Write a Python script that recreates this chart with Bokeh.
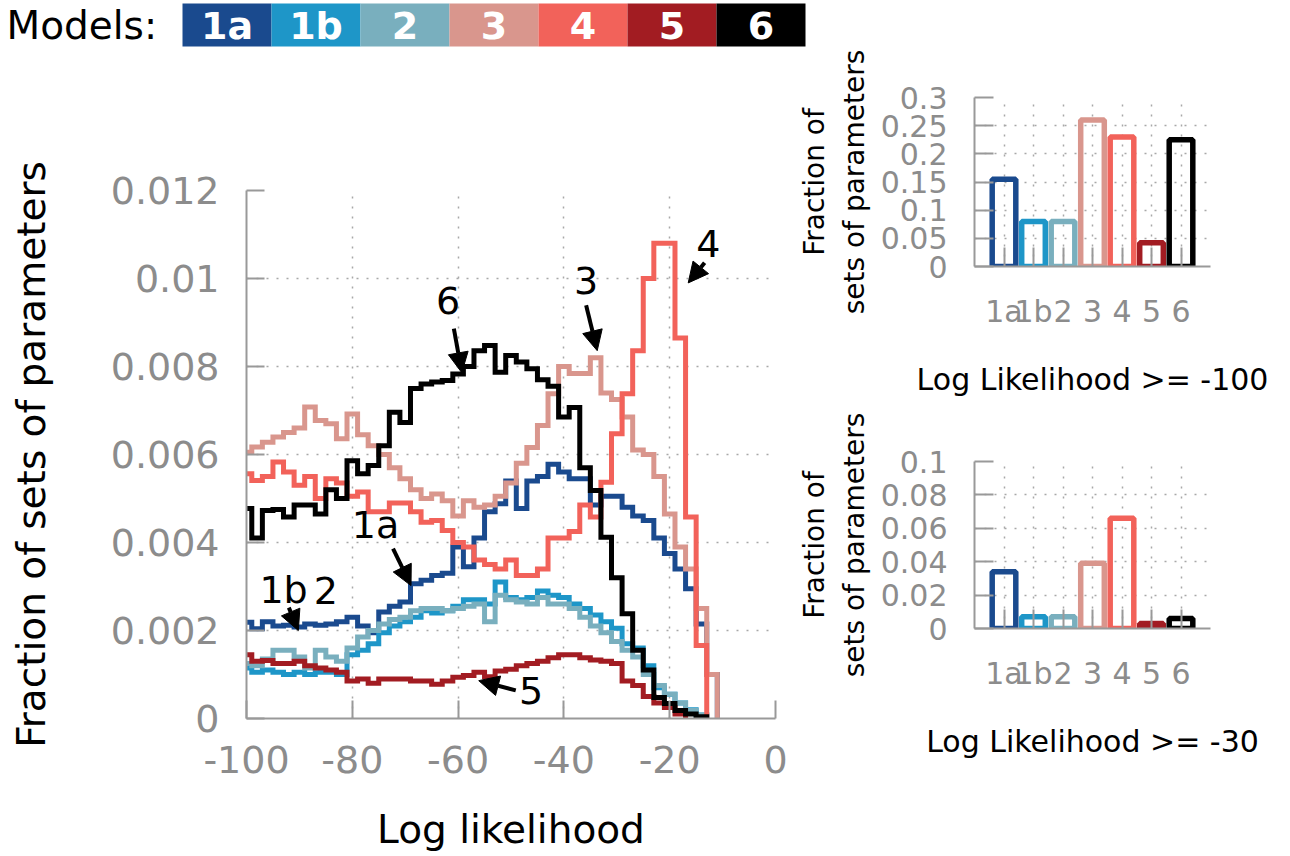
import numpy as np
from bokeh.plotting import figure
from bokeh.models import Range1d, FixedTicker, Label, Arrow, NormalHead
from bokeh.layouts import row, column
from bokeh.embed import file_html
from bokeh.resources import INLINE
from bokeh.core.properties import value

# ---------------- data ----------------
models = ["1a", "1b", "2", "3", "4", "5", "6"]
colors = ["#1a4a8e", "#1e96c8", "#79afbe", "#d9968d", "#f2625a", "#a21c22", "#000000"]

# histogram bins: centres at -100, -98, ... (width 2); values in units of 0.001
bin_first = -100
bin_width = 2
m1a = [2.19, 2.04, 2.2, 2.1, 2.12, 2.08, 2.15, 2.12, 2.15, 2.2, 2.3, 2.1, 1.95, 2.42, 2.55, 2.65,
       3.06, 3.14, 3.25, 3.3, 3.9, 3.45, 4.1, 4.7, 4.88, 5.4, 4.77, 5.4, 5.5, 5.78, 5.6, 5.45,
       5.45, 4.85, 5.05, 5.05, 4.8, 4.6, 4.5, 4.1, 3.75, 3.4, 2.95, 2.15, 1.0]
m1b = [1.15, 1.05, 1.1, 1.05, 1.0, 1.05, 1.0, 1.05, 1.05, 1.0, 1.45, 1.55, 1.7, 1.95, 2.1, 2.2,
       2.3, 2.45, 2.4, 2.45, 2.55, 2.7, 2.7, 2.6, 3.1, 2.75, 2.7, 2.75, 2.9, 2.8, 2.75, 2.6,
       2.5, 2.35, 2.2, 2.05, 1.7, 1.6, 1.2, 0.7, 0.55, 0.35, 0.2, 0.08]
m2 = [1.25, 1.2, 1.35, 1.55, 1.55, 1.4, 1.15, 1.55, 1.4, 1.3, 1.6, 1.85, 2.0, 2.15, 2.25, 2.3,
      2.45, 2.5, 2.5, 2.45, 2.5, 2.55, 2.6, 2.2, 2.8, 2.7, 2.65, 2.6, 2.75, 2.6, 2.6, 2.5,
      2.3, 2.1, 1.95, 1.75, 1.55, 1.4, 1.0, 0.75, 0.55, 0.35, 0.18, 0.08]
m3 = [6.05, 6.17, 6.28, 6.4, 6.5, 6.6, 7.08, 6.77, 6.7, 6.36, 6.92, 6.45, 6.2, 6.0, 5.7, 5.45,
      5.2, 5.0, 5.1, 4.95, 4.6, 4.95, 4.8, 4.85, 5.05, 5.35, 5.8, 6.16, 6.66, 7.38, 8.0, 7.84,
      7.84, 8.2, 7.4, 7.25, 6.85, 6.1, 6.0, 5.5, 4.65, 3.9, 3.4, 2.5, 1.0]
m4 = [5.56, 5.41, 5.5, 5.83, 5.6, 5.3, 5.5, 5.0, 5.45, 5.35, 5.05, 5.15, 4.7, 4.7, 4.9, 4.9,
      4.7, 4.46, 4.5, 4.27, 4.0, 3.9, 3.6, 3.5, 3.4, 3.6, 3.25, 3.25, 3.4, 4.1, 4.1, 4.25,
      4.85, 4.58, 5.37, 6.47, 7.38, 8.36, 10.0, 10.8, 10.8, 8.65, 4.58, 1.66]
m5 = [1.45, 1.3, 1.32, 1.25, 1.25, 1.3, 1.2, 1.15, 1.1, 1.05, 0.85, 0.9, 0.8, 0.9, 0.9, 0.9,
      0.85, 0.85, 0.78, 0.85, 0.94, 0.98, 1.05, 0.95, 1.08, 1.12, 1.2, 1.25, 1.3, 1.38, 1.45, 1.45,
      1.38, 1.33, 1.3, 1.25, 0.85, 0.75, 0.5, 0.35, 0.25, 0.1]
m6 = [4.77, 4.1, 4.73, 4.75, 4.58, 4.85, 4.85, 4.65, 5.2, 5.0, 5.86, 5.56, 5.75, 6.2, 6.96, 6.73,
      7.5, 7.6, 7.65, 7.68, 7.83, 8.0, 8.36, 8.48, 7.87, 8.25, 8.1, 7.95, 7.7, 7.55, 6.85, 7.07,
      5.7, 5.18, 4.12, 3.2, 2.38, 1.55, 1.1, 0.48, 0.34, 0.18, 0.1, 0.04]
series = [m1a, m1b, m2, m3, m4, m5, m6]
unit = 1e-3

frac_ll100 = [0.155, 0.08, 0.08, 0.26, 0.23, 0.042, 0.225]
frac_ll30 = [0.034, 0.007, 0.007, 0.039, 0.066, 0.003, 0.006]

x_ticks = [-100, -80, -60, -40, -20, 0]
x_tick_labels = ["-100", "-80", "-60", "-40", "-20", "0"]
y_ticks = [0, 0.002, 0.004, 0.006, 0.008, 0.01, 0.012]
y_tick_labels = ["0", "0.002", "0.004", "0.006", "0.008", "0.01", "0.012"]
top_ticks = [0, 0.05, 0.1, 0.15, 0.2, 0.25, 0.3]
top_tick_labels = ["0", "0.05", "0.1", "0.15", "0.2", "0.25", "0.3"]
bot_ticks = [0, 0.02, 0.04, 0.06, 0.08, 0.1]
bot_tick_labels = ["0", "0.02", "0.04", "0.06", "0.08", "0.1"]

FONT = "DejaVu Sans"
GRAY = "#8c8c8c"
AXIS_GRAY = "#999999"
GRID = "#a8a8a8"


def style_axes(f, tick_size, label_size, tick_len):
    for ax in f.axis:
        ax.axis_line_color = AXIS_GRAY
        ax.axis_line_width = 2
        ax.major_tick_line_color = AXIS_GRAY
        ax.major_tick_line_width = 2
        ax.major_tick_in = tick_len
        ax.major_tick_out = 0
        ax.minor_tick_line_color = None
        ax.major_label_text_font = FONT
        ax.major_label_text_font_size = tick_size
        ax.major_label_text_color = GRAY
        ax.axis_label_text_font = FONT
        ax.axis_label_text_font_size = label_size
        ax.axis_label_text_font_style = "normal"
        ax.axis_label_text_color = "black"
    for g in f.grid:
        g.grid_line_color = GRID
        g.grid_line_dash = "2 8"
        g.grid_line_width = 1.5
    f.outline_line_color = None
    f.background_fill_color = "white"
    f.border_fill_color = "white"


def step_path(vals):
    xs, ys = [], []
    for i, v in enumerate(vals):
        c = bin_first + i * bin_width
        xs += [c - bin_width / 2, c + bin_width / 2]
        ys += [v * unit, v * unit]
    xs.append(xs[-1])
    ys.append(0)
    return xs, ys


# ---------------- legend strip ----------------
LG_H = 50
lg = figure(width=810, height=LG_H, x_range=Range1d(0, 810), y_range=Range1d(0, LG_H),
            output_backend="svg", toolbar_location=None, min_border=0)
lg.axis.visible = False
lg.grid.visible = False
lg.outline_line_color = None
box_left = 182
box_w = 89
lefts = [box_left + box_w * i for i in range(len(models))]
lg.quad(left=lefts, right=[l + box_w for l in lefts], bottom=4, top=47,
        fill_color=colors, line_color=None)
lg.text(x=[l + box_w / 2 for l in lefts], y=25, text=models, text_color="white",
        text_font=value(FONT), text_font_style="bold", text_font_size="38px",
        text_align="center", text_baseline="middle")
lg.add_layout(Label(x=6, y=25, text="Models:", text_font=FONT, text_font_size="39px",
                    text_baseline="middle", text_align="left", text_color="black"))

# ---------------- main histogram ----------------
LEFT_W = 795
p = figure(width=LEFT_W, height=856 - LG_H, x_range=Range1d(-100, 0), y_range=Range1d(0, 0.012),
           output_backend="svg", toolbar_location=None,
           min_border_left=246, min_border_right=LEFT_W - 775,
           min_border_top=190 - LG_H, min_border_bottom=138)
style_axes(p, "38px", "39px", 18)
p.xaxis.ticker = FixedTicker(ticks=x_ticks)
p.xaxis.major_label_overrides = dict(zip(x_ticks, x_tick_labels))
p.yaxis.ticker = FixedTicker(ticks=y_ticks)
p.yaxis.major_label_overrides = dict(zip(y_ticks, y_tick_labels))
p.xaxis.axis_label = "Log likelihood"
p.yaxis.axis_label = "Fraction of sets of parameters"
p.xaxis.major_label_standoff = 27
p.yaxis.major_label_standoff = 27
p.xaxis.axis_label_standoff = 31
p.yaxis.axis_label_standoff = 54

for vals, col in zip(series, colors):
    xs, ys = step_path(vals)
    p.line(xs, ys, line_color=col, line_width=5, line_join="miter")

annot = [("6", -61.9, 0.0095, -60.8, 0.00886, -59.3, 0.00786),
         ("3", -35.8, 0.00995, -35.8, 0.00939, -33.7, 0.00836),
         ("4", -12.7, 0.0108, -13.4, 0.01036, -16.5, 0.0099),
         ("1a", -75.6, 0.00439, -72.3, 0.00386, -68.9, 0.00302),
         ("1b", -93.0, 0.00291, -92.0, 0.00252, -90.2, 0.0020),
         ("5", -46.2, 0.00064, -49.1, 0.00064, -56.1, 0.00086)]
for txt, tx, ty, x0, y0, x1, y1 in annot:
    p.add_layout(Label(x=tx, y=ty, text=txt, text_font=FONT, text_font_size="38px",
                       text_align="center", text_baseline="middle", text_color="black"))
    p.add_layout(Arrow(x_start=x0, y_start=y0, x_end=x1, y_end=y1, line_width=4,
                       line_color="black",
                       end=NormalHead(size=20, fill_color="black", line_color="black", line_width=1)))
p.add_layout(Label(x=-85.0, y=0.00291, text="2", text_font=FONT, text_font_size="38px",
                   text_align="center", text_baseline="middle", text_color="black"))


# ---------------- small bar charts ----------------
RIGHT_W = 1290 - LEFT_W


def small_fig(vals, ymax, ticks, labels, title, height, btop, bbottom):
    s = figure(width=RIGHT_W, height=height, x_range=Range1d(0, 8), y_range=Range1d(0, ymax),
               output_backend="svg", toolbar_location=None,
               min_border_left=973 - LEFT_W, min_border_right=1290 - 1210, min_border_top=btop,
               min_border_bottom=bbottom)
    style_axes(s, "30px", "28px", 19)
    xpos = list(range(1, len(models) + 1))
    s.vbar(x=xpos, top=vals, width=0.8, bottom=0, fill_color=None,
           line_color=colors, line_width=5.5)
    s.xaxis.ticker = FixedTicker(ticks=xpos)
    s.xaxis.major_label_overrides = {i: m for i, m in zip(xpos, models)}
    s.yaxis.ticker = FixedTicker(ticks=ticks)
    s.yaxis.major_label_overrides = dict(zip(ticks, labels))
    s.xaxis.axis_label = title
    s.xaxis.axis_label_text_font_size = "30px"
    s.yaxis.axis_label = "Fraction of\nsets of parameters"
    s.xaxis.major_label_standoff = 27
    s.yaxis.major_label_standoff = 27
    s.xaxis.axis_label_standoff = 30
    s.yaxis.axis_label_standoff = 7
    return s


# top small chart: frame y 97..266 ; bottom small chart: frame y 461..628
SPLIT = 405
s1 = small_fig(frac_ll100, 0.3, top_ticks, top_tick_labels, "Log Likelihood >= -100",
               SPLIT - LG_H, 97 - LG_H, SPLIT - 266)
s2 = small_fig(frac_ll30, 0.1, bot_ticks, bot_tick_labels, "Log Likelihood >= -30",
               856 - SPLIT, 461 - SPLIT, 856 - 628)

layout = column(lg, row(p, column(s1, s2)))
open("out.html", "w").write(file_html(layout, INLINE))
